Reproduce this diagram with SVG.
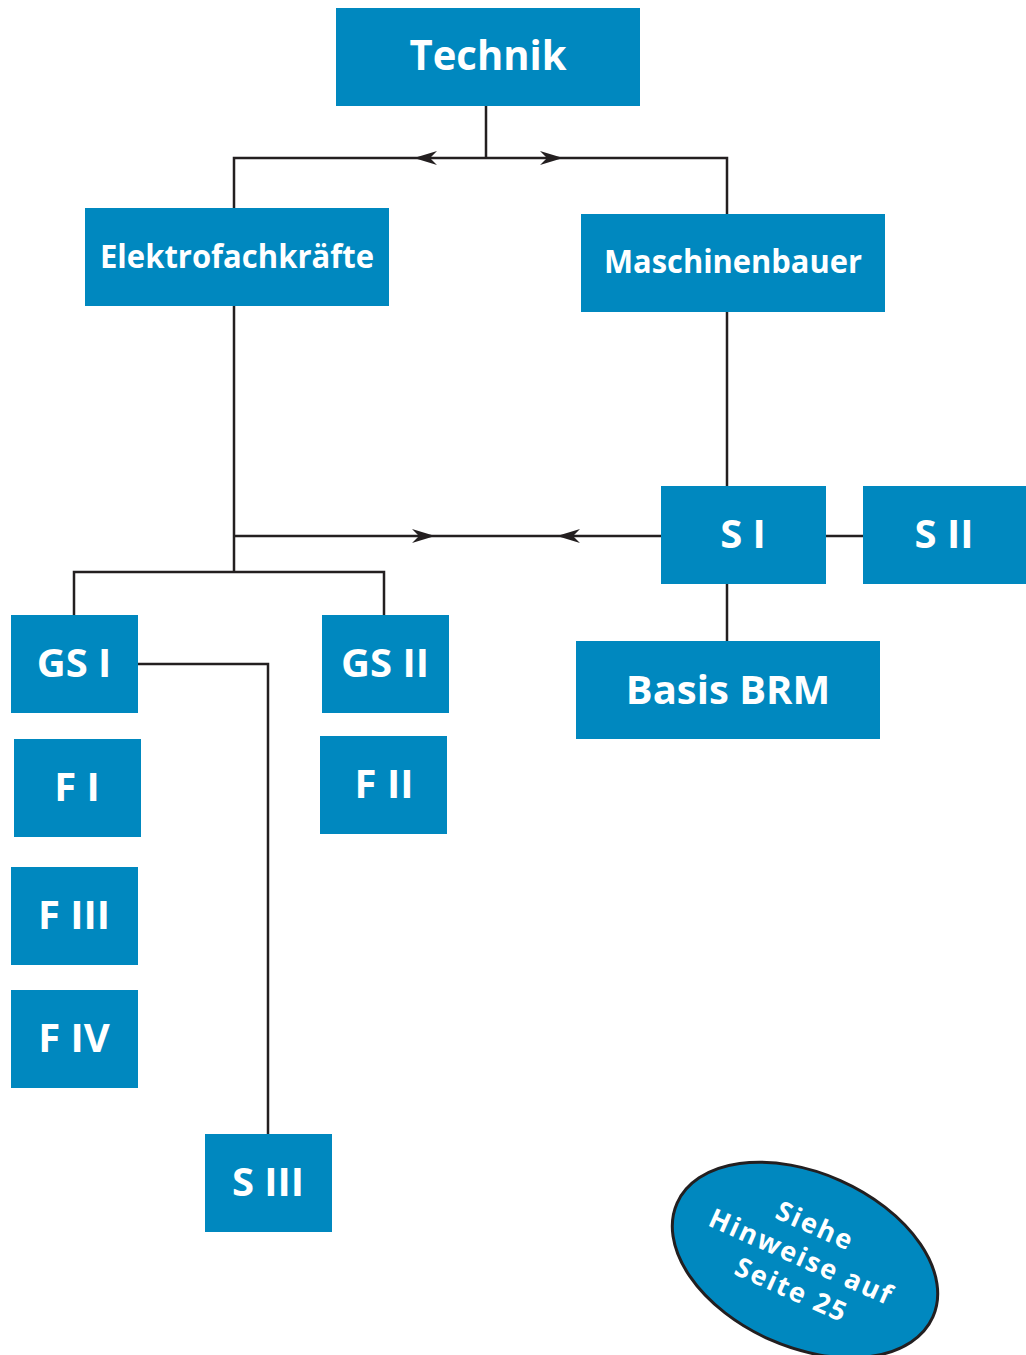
<svg xmlns="http://www.w3.org/2000/svg" xmlns:xlink="http://www.w3.org/1999/xlink" width="1026" height="1355" viewBox="0 0 1026 1355">
<style>
.box{fill:#0088BF}
.t{fill:#fff;font-family:"Open Sans","DejaVu Sans",sans-serif;font-weight:700;text-anchor:middle}
.ln{stroke:#231f20;stroke-width:2.5;fill:none}
</style>
<defs>
<path id="ar" d="M0,0 L-23,-7 L-16,0 L-23,7 Z" fill="#231f20"/>
</defs>
<rect width="1026" height="1355" fill="#fff"/>
<g id="connectors">
<path class="ln" d="M486,106 V158 M234,208 V158 H727 V214"/>
<path class="ln" d="M234,306 V572 M234,536 H661 M74,615 V572 H384 V615"/>
<path class="ln" d="M727,312 V486 M826,536 H863 M727,584 V641"/>
<path class="ln" d="M138,664 H268 V1134"/>
<use xlink:href="#ar" transform="translate(414,158) rotate(180)"/>
<use xlink:href="#ar" transform="translate(563,158)"/>
<use xlink:href="#ar" transform="translate(435,536)"/>
<use xlink:href="#ar" transform="translate(557,536) rotate(180)"/>
</g>
<g id="technik"><rect class="box" x="336" y="8" width="304" height="98"/><text class="t" x="488" y="70" font-size="42" textLength="157" lengthAdjust="spacingAndGlyphs">Technik</text></g>
<g id="elektro"><rect class="box" x="85" y="208" width="304" height="98"/><text class="t" x="237" y="268" font-size="32" textLength="274" lengthAdjust="spacingAndGlyphs">Elektrofachkräfte</text></g>
<g id="maschinenbauer"><rect class="box" x="581" y="214" width="304" height="98"/><text class="t" x="733" y="273" font-size="32" textLength="258" lengthAdjust="spacingAndGlyphs">Maschinenbauer</text></g>
<g id="s1"><rect class="box" x="661" y="486" width="165" height="98"/><text class="t" x="743" y="548" font-size="40">S I</text></g>
<g id="s2"><rect class="box" x="863" y="486" width="163" height="98"/><text class="t" x="944" y="548" font-size="40">S II</text></g>
<g id="basis"><rect class="box" x="576" y="641" width="304" height="98"/><text class="t" x="728" y="704" font-size="40">Basis BRM</text></g>
<g id="gs1"><rect class="box" x="11" y="615" width="127" height="98"/><text class="t" x="74" y="677" font-size="40">GS I</text></g>
<g id="gs2"><rect class="box" x="322" y="615" width="127" height="98"/><text class="t" x="385" y="677" font-size="40">GS II</text></g>
<g id="f1"><rect class="box" x="14" y="739" width="127" height="98"/><text class="t" x="77" y="801" font-size="40">F I</text></g>
<g id="f2"><rect class="box" x="320" y="736" width="127" height="98"/><text class="t" x="384" y="798" font-size="40">F II</text></g>
<g id="f3"><rect class="box" x="11" y="867" width="127" height="98"/><text class="t" x="74" y="929" font-size="40">F III</text></g>
<g id="f4"><rect class="box" x="11" y="990" width="127" height="98"/><text class="t" x="74" y="1052" font-size="40">F IV</text></g>
<g id="s3"><rect class="box" x="205" y="1134" width="127" height="98"/><text class="t" x="268" y="1196" font-size="40">S III</text></g>
<g id="hinweis" transform="translate(805,1260) rotate(24)">
<ellipse cx="0" cy="0" rx="140" ry="87" fill="#0088BF" stroke="#231f20" stroke-width="3"/>
<text class="t" font-size="27" letter-spacing="2">
<tspan x="0" y="-26">Siehe</tspan>
<tspan x="0" y="8">Hinweise auf</tspan>
<tspan x="0" y="42">Seite 25</tspan>
</text>
</g>
</svg>
